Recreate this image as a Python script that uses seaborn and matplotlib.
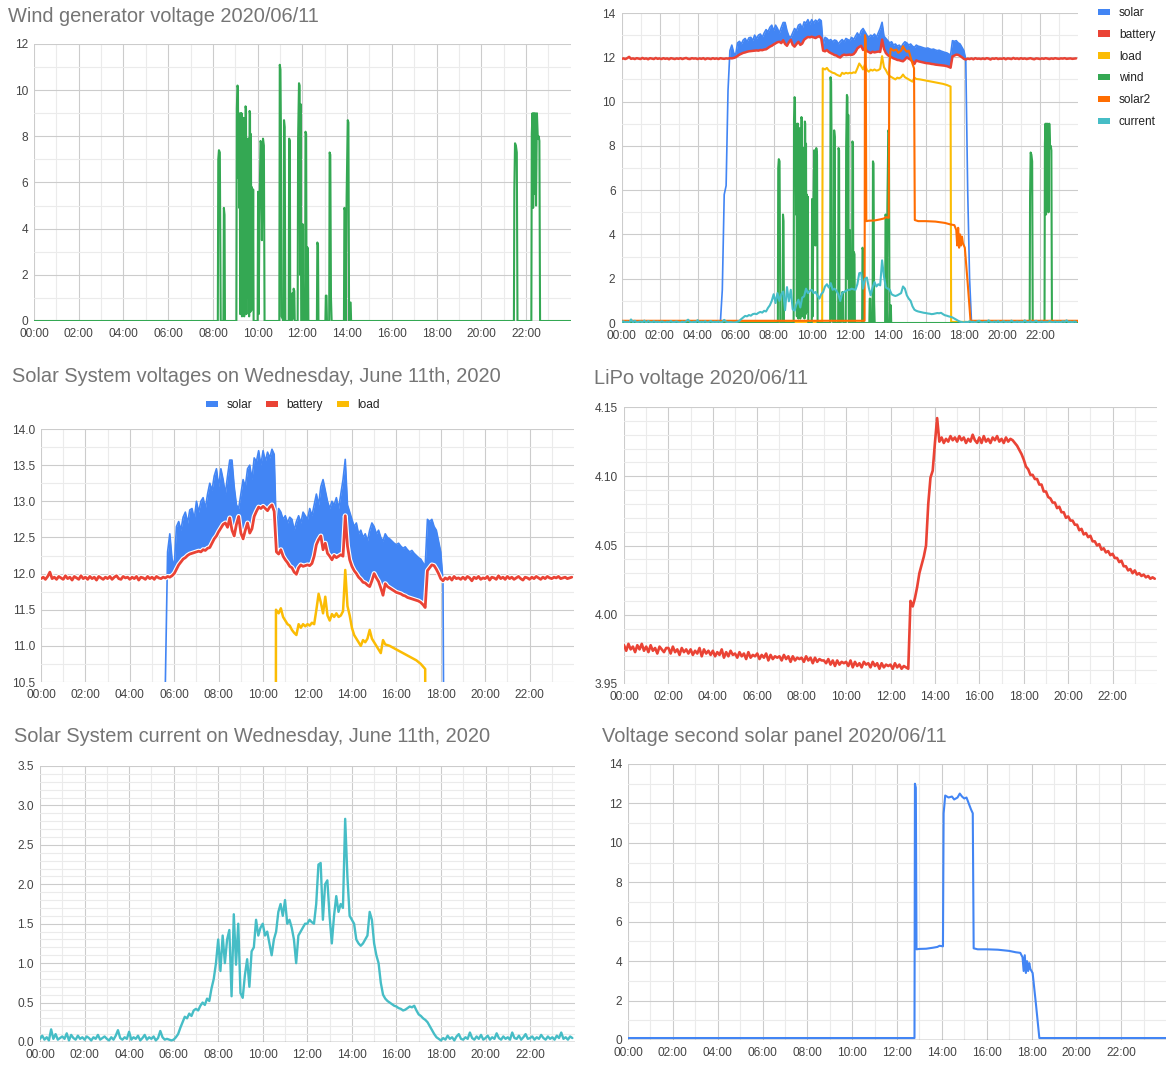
import numpy as np
import pandas as pd
import matplotlib
matplotlib.use('Agg')
import matplotlib.pyplot as plt
import matplotlib.patheffects as pe
import seaborn as sns
from matplotlib.ticker import FixedLocator, MultipleLocator, FuncFormatter
from matplotlib.patches import Patch

W, H = 1173, 1077

BLUE = '#4285f4'
RED = '#ea4335'
YELLOW = '#fbbc04'
GREEN = '#34a853'
ORANGE = '#ff6d01'
TEAL = '#46bdc6'

# readings every 6 minutes (0.1 h) over the day
hours = np.round(np.arange(240) * 0.1, 1)

battery = [
    11.93, 11.95, 11.92, 11.96, 12.02, 11.93, 11.95, 11.92, 11.96, 11.94,
    11.92, 11.97, 11.93, 11.95, 11.91, 11.96, 11.94, 11.92, 11.97, 11.93,
    11.95, 11.92, 11.96, 11.93, 11.95, 11.91, 11.96, 11.94, 11.92, 11.95,
    11.93, 11.96, 11.92, 11.95, 11.97, 11.93, 11.92, 11.96, 11.94, 11.95,
    11.92, 11.95, 11.93, 11.96, 11.91, 11.95, 11.94, 11.92, 11.96, 11.93,
    11.95, 11.92, 11.96, 11.94, 11.93, 11.95, 11.94, 11.96, 11.95, 11.97,
    12.00, 12.06, 12.12, 12.16, 12.20, 12.22, 12.25, 12.27, 12.28, 12.29,
    12.30, 12.31, 12.30, 12.33, 12.32, 12.35, 12.36, 12.42, 12.48, 12.52,
    12.58, 12.63, 12.68, 12.70, 12.64, 12.77, 12.60, 12.52, 12.68, 12.79,
    12.56, 12.48, 12.60, 12.70, 12.56, 12.62, 12.79, 12.86, 12.92, 12.90,
    12.93, 12.90, 12.87, 12.92, 12.95, 12.86, 12.30, 12.27, 12.33, 12.24,
    12.19, 12.15, 12.10, 12.08, 12.02, 11.99, 12.08, 12.12, 12.10, 12.11,
    12.12, 12.11, 12.14, 12.24, 12.40, 12.47, 12.52, 12.33, 12.42, 12.28,
    12.24, 12.19, 12.25, 12.22, 12.24, 12.26, 12.24, 12.80, 12.38, 12.19,
    12.10, 12.04, 12.00, 11.95, 11.92, 11.88, 11.87, 11.84, 11.82, 11.90,
    12.00, 11.94, 11.89, 11.80, 11.70, 11.86, 11.82, 11.80, 11.78, 11.76,
    11.74, 11.73, 11.72, 11.70, 11.69, 11.67, 11.66, 11.65, 11.64, 11.63,
    11.62, 11.60, 11.57, 11.53, 12.04, 12.08, 12.12, 12.11, 12.06, 12.00,
    11.93, 11.90, 11.94, 11.92, 11.95, 11.91, 11.96, 11.93, 11.94, 11.92,
    11.95, 11.92, 11.96, 11.94, 11.90, 11.95, 11.93, 11.96, 11.92, 11.94,
    11.93, 11.96, 11.91, 11.95, 11.94, 11.92, 11.97, 11.93, 11.95, 11.92,
    11.96, 11.93, 11.95, 11.92, 11.94, 11.96, 11.93, 11.91, 11.95, 11.94,
    11.92, 11.95, 11.93, 11.96, 11.94, 11.92, 11.95, 11.93, 11.96, 11.94,
    11.93, 11.95, 11.94, 11.96, 11.93, 11.94, 11.95, 11.93, 11.94, 11.95,
]

# solar panel peaks, 05:00 .. 18:24 (same 6 minute steps)
solar_day = [
    0.05, 0.05, 0.05, 1.50, 5.80, 6.20, 10.50, 12.30, 12.55, 12.20,
    12.10, 12.65, 12.72, 12.60, 12.78, 12.85, 12.70, 12.88, 12.90, 12.75,
    13.00, 12.85, 13.00, 13.05, 12.90, 13.10, 13.25, 13.15, 13.35, 13.45,
    13.20, 13.45, 13.30, 13.10, 13.35, 13.57, 13.57, 13.20, 12.95, 12.90,
    13.10, 13.30, 13.20, 13.45, 13.50, 13.30, 13.60, 13.55, 13.70, 13.50,
    13.70, 13.55, 13.68, 13.60, 13.72, 13.65, 12.55, 12.90, 12.85, 12.75,
    12.80, 12.70, 12.78, 12.75, 12.60, 12.72, 12.80, 12.70, 12.85, 12.80,
    12.75, 12.90, 12.80, 12.95, 13.10, 12.95, 13.20, 13.30, 13.15, 13.00,
    12.90, 13.00, 12.95, 13.05, 12.90, 13.10, 13.30, 13.58, 12.95, 12.85,
    12.75, 12.65, 12.70, 12.55, 12.60, 12.50, 12.55, 12.45, 12.60, 12.70,
    12.65, 12.55, 12.60, 12.50, 12.45, 12.55, 12.50, 12.48, 12.45, 12.42,
    12.40, 12.42, 12.38, 12.35, 12.37, 12.33, 12.30, 12.32, 12.28, 12.25,
    12.22, 12.20, 12.15, 12.10, 12.75, 12.72, 12.75, 12.65, 12.60, 12.45,
    12.30, 11.90, 6.00, 2.00, 0.05,
]
solar_night = 0.05

current = [
    0.04, 0.08, 0.03, 0.06, 0.02, 0.16, 0.04, 0.10, 0.03, 0.05,
    0.07, 0.04, 0.11, 0.02, 0.09, 0.05, 0.03, 0.08, 0.04, 0.06,
    0.03, 0.07, 0.05, 0.02, 0.06, 0.04, 0.09, 0.03, 0.05, 0.07,
    0.04, 0.02, 0.06, 0.03, 0.08, 0.15, 0.05, 0.03, 0.06, 0.04,
    0.13, 0.03, 0.06, 0.04, 0.08, 0.02, 0.05, 0.09, 0.03, 0.06,
    0.04, 0.07, 0.02, 0.05, 0.14, 0.06, 0.03, 0.04, 0.03, 0.02,
    0.03, 0.06, 0.10, 0.18, 0.25, 0.32, 0.30, 0.36, 0.33, 0.40,
    0.42, 0.40, 0.46, 0.50, 0.47, 0.55, 0.52, 0.68, 0.80, 1.00,
    1.30, 0.90, 1.35, 1.00, 1.30, 1.42, 0.58, 1.62, 0.98, 1.50,
    0.62, 0.56, 0.85, 1.05, 0.70, 1.15, 1.20, 1.55, 1.35, 1.45,
    1.50, 1.35, 1.40, 1.25, 1.10, 1.30, 1.40, 1.65, 1.75, 1.60,
    1.80, 1.50, 1.55, 1.45, 1.30, 1.00, 1.35, 1.40, 1.45, 1.50,
    1.50, 1.55, 1.52, 1.50, 1.75, 2.25, 2.27, 1.55, 2.00, 2.05,
    1.60, 1.25, 1.60, 1.85, 1.65, 1.75, 1.70, 2.83, 2.10, 1.60,
    1.55, 1.50, 1.30, 1.25, 1.22, 1.25, 1.30, 1.35, 1.65, 1.55,
    1.25, 1.10, 1.00, 0.75, 0.60, 0.55, 0.52, 0.50, 0.48, 0.46,
    0.45, 0.43, 0.42, 0.40, 0.41, 0.43, 0.45, 0.44, 0.46, 0.40,
    0.35, 0.33, 0.30, 0.28, 0.25, 0.20, 0.15, 0.10, 0.06, 0.04,
    0.02, 0.05, 0.03, 0.08, 0.04, 0.06, 0.02, 0.07, 0.10, 0.04,
    0.03, 0.06, 0.04, 0.12, 0.05, 0.03, 0.07, 0.04, 0.09, 0.03,
    0.05, 0.08, 0.03, 0.06, 0.04, 0.11, 0.05, 0.03, 0.07, 0.04,
    0.06, 0.03, 0.12, 0.05, 0.04, 0.08, 0.03, 0.06, 0.10, 0.04,
    0.05, 0.07, 0.03, 0.06, 0.04, 0.09, 0.05, 0.03, 0.07, 0.04,
    0.06, 0.03, 0.08, 0.05, 0.12, 0.04, 0.06, 0.03, 0.07, 0.05,
]

lipo = [
    3.978, 3.974, 3.979, 3.975, 3.977, 3.973, 3.978, 3.975, 3.979, 3.974,
    3.977, 3.973, 3.978, 3.974, 3.976, 3.972, 3.977, 3.975, 3.973, 3.976,
    3.976, 3.972, 3.977, 3.973, 3.975, 3.971, 3.976, 3.973, 3.975, 3.972,
    3.975, 3.971, 3.974, 3.972, 3.976, 3.970, 3.975, 3.972, 3.974, 3.971,
    3.974, 3.970, 3.973, 3.971, 3.975, 3.969, 3.973, 3.970, 3.974, 3.971,
    3.972, 3.969, 3.973, 3.970, 3.972, 3.968, 3.973, 3.969, 3.971, 3.970,
    3.972, 3.968, 3.971, 3.969, 3.972, 3.967, 3.971, 3.968, 3.970, 3.969,
    3.970, 3.967, 3.971, 3.968, 3.970, 3.966, 3.970, 3.967, 3.969, 3.968,
    3.969, 3.966, 3.970, 3.967, 3.969, 3.965, 3.969, 3.966, 3.968, 3.967,
    3.967, 3.965, 3.968, 3.964, 3.967, 3.963, 3.967, 3.964, 3.966, 3.965,
    3.966, 3.963, 3.967, 3.962, 3.966, 3.963, 3.965, 3.962, 3.966, 3.964,
    3.965, 3.962, 3.966, 3.963, 3.965, 3.961, 3.965, 3.962, 3.964, 3.963,
    3.964, 3.961, 3.965, 3.962, 3.964, 3.961, 3.963, 3.962, 3.961, 4.010,
    4.006, 4.012, 4.020, 4.030, 4.036, 4.042, 4.050, 4.080, 4.099, 4.104,
    4.124, 4.142, 4.125, 4.128, 4.124, 4.127, 4.125, 4.129, 4.126, 4.128,
    4.125, 4.129, 4.126, 4.128, 4.124, 4.127, 4.125, 4.130, 4.126, 4.124,
    4.128, 4.124, 4.129, 4.125, 4.127, 4.124, 4.128, 4.126, 4.129, 4.125,
    4.127, 4.124, 4.128, 4.125, 4.127, 4.126, 4.124, 4.122, 4.119, 4.116,
    4.112, 4.107, 4.105, 4.101, 4.101, 4.098, 4.098, 4.094, 4.094, 4.089,
    4.089, 4.085, 4.084, 4.081, 4.081, 4.077, 4.078, 4.074, 4.074, 4.070,
    4.071, 4.068, 4.068, 4.065, 4.065, 4.061, 4.062, 4.058, 4.059, 4.056,
    4.057, 4.053, 4.053, 4.050, 4.051, 4.047, 4.048, 4.045, 4.046, 4.043,
    4.044, 4.041, 4.041, 4.038, 4.039, 4.035, 4.035, 4.032, 4.033, 4.030,
    4.032, 4.029, 4.030, 4.028, 4.029, 4.027, 4.028, 4.026, 4.027, 4.026,
]

# (hour, volts) for the series that change in steps or bursts
load_pts = [
    (0.00, 0.05), (10.55, 0.05), (10.58, 11.50), (10.70, 11.45), (10.80, 11.52), (10.90, 11.40),
    (11.00, 11.35), (11.10, 11.30), (11.20, 11.28), (11.30, 11.22), (11.40, 11.18), (11.50, 11.15),
    (11.60, 11.30), (11.70, 11.25), (11.80, 11.30), (11.90, 11.27), (12.00, 11.30), (12.10, 11.28),
    (12.20, 11.32), (12.30, 11.30), (12.40, 11.50), (12.50, 11.72), (12.60, 11.60), (12.70, 11.45),
    (12.80, 11.68), (12.90, 11.42), (13.00, 11.35), (13.10, 11.44), (13.20, 11.40), (13.30, 11.45),
    (13.40, 11.40), (13.50, 11.42), (13.60, 11.48), (13.70, 12.05), (13.80, 11.55), (13.90, 11.42),
    (14.00, 11.25), (14.10, 11.15), (14.20, 11.10), (14.30, 11.05), (14.40, 11.00), (14.50, 11.08),
    (14.60, 11.05), (14.70, 11.10), (14.80, 11.22), (14.90, 11.10), (15.00, 11.05), (15.10, 11.00),
    (15.20, 10.95), (15.30, 10.90), (15.40, 11.08), (15.50, 11.02), (15.70, 11.00), (16.00, 10.95),
    (16.30, 10.90), (16.60, 10.85), (16.90, 10.80), (17.10, 10.75), (17.30, 10.68), (17.33, 0.05),
    (24.00, 0.05),
]

solar2_pts = [
    (0.00, 0.10), (12.78, 0.10), (12.80, 13.00), (12.84, 12.80), (12.87, 4.60), (13.00, 4.62),
    (13.30, 4.63), (13.60, 4.68), (13.80, 4.72), (13.90, 4.78), (14.05, 4.75), (14.08, 11.50),
    (14.12, 12.00), (14.15, 12.40), (14.30, 12.30), (14.45, 12.35), (14.55, 12.20), (14.70, 12.30),
    (14.80, 12.50), (14.90, 12.35), (15.00, 12.25), (15.10, 12.30), (15.20, 12.00), (15.30, 11.70),
    (15.38, 11.50), (15.42, 4.65), (15.60, 4.60), (16.00, 4.60), (16.50, 4.58), (17.00, 4.52),
    (17.30, 4.45), (17.50, 4.42), (17.60, 4.20), (17.65, 3.50), (17.70, 4.30), (17.75, 3.40),
    (17.80, 4.00), (17.85, 3.50), (17.90, 3.90), (17.95, 3.60), (18.05, 3.40), (18.20, 1.80),
    (18.35, 0.10), (24.00, 0.10),
]

wind_pts = [
    (0.00, 0.0), (8.22, 0.0), (8.24, 7.0), (8.27, 7.4), (8.31, 7.3), (8.35, 0.0),
    (8.47, 0.0), (8.49, 4.9), (8.52, 4.6), (8.54, 0.0),
    (9.05, 0.0), (9.07, 9.2), (9.10, 10.2), (9.12, 10.1), (9.14, 6.2), (9.16, 9.0), (9.18, 4.9),
    (9.20, 8.9), (9.22, 0.3), (9.24, 9.0), (9.26, 5.0), (9.28, 9.0), (9.30, 0.2), (9.32, 7.5),
    (9.34, 0.5), (9.36, 6.0), (9.38, 8.8), (9.40, 0.2), (9.42, 8.0), (9.44, 6.0), (9.46, 9.3),
    (9.48, 9.2), (9.50, 0.3), (9.52, 7.9), (9.54, 1.0), (9.56, 7.8), (9.58, 3.5), (9.60, 7.9),
    (9.62, 0.2), (9.64, 9.1), (9.66, 9.0), (9.68, 0.4), (9.70, 8.1), (9.72, 2.0), (9.74, 5.8),
    (9.76, 5.6), (9.78, 0.5), (9.80, 5.7), (9.82, 0.0),
    (10.00, 0.0), (10.02, 5.6), (10.05, 0.3), (10.08, 4.5), (10.13, 7.8), (10.16, 7.7),
    (10.19, 3.5), (10.24, 7.9), (10.28, 7.6), (10.31, 0.0),
    (10.97, 0.0), (10.99, 11.1), (11.02, 10.9), (11.04, 8.5), (11.07, 0.2), (11.16, 0.0),
    (11.18, 8.7), (11.21, 8.4), (11.24, 0.0),
    (11.39, 0.0), (11.41, 7.9), (11.44, 7.8), (11.46, 0.0),
    (11.53, 0.0), (11.55, 1.2), (11.58, 0.1), (11.61, 1.4), (11.64, 1.3), (11.66, 0.0),
    (11.79, 0.0), (11.81, 7.9), (11.85, 10.3), (11.88, 10.2), (11.90, 2.0), (11.92, 9.4),
    (11.95, 0.0), (11.99, 0.0), (12.01, 4.2), (12.04, 0.0), (12.12, 0.0), (12.14, 8.2),
    (12.17, 8.1), (12.19, 0.0), (12.22, 3.2), (12.25, 3.1), (12.27, 0.0),
    (12.65, 0.0), (12.67, 3.4), (12.70, 3.3), (12.72, 0.0),
    (13.03, 0.0), (13.05, 1.1), (13.08, 1.1), (13.10, 0.0), (13.20, 0.0), (13.22, 7.3),
    (13.25, 7.2), (13.28, 1.0), (13.31, 0.0),
    (13.86, 0.0), (13.88, 4.9), (13.91, 4.8), (13.93, 0.0), (13.98, 5.4), (14.03, 8.7),
    (14.06, 8.6), (14.09, 0.0), (14.13, 0.8), (14.16, 0.8), (14.18, 0.0),
    (21.46, 0.0), (21.48, 5.7), (21.51, 7.7), (21.55, 7.6), (21.59, 7.3), (21.62, 0.0),
    (22.24, 0.0), (22.26, 8.1), (22.29, 9.0), (22.32, 4.9), (22.35, 9.0), (22.38, 5.5),
    (22.41, 9.0), (22.45, 5.0), (22.49, 9.0), (22.53, 7.9), (22.57, 8.0), (22.60, 7.8),
    (22.63, 0.0), (24.00, 0.0),
]

hour_ticks = list(range(0, 23, 2))
volt_ticks = [0, 2, 4, 6, 8, 10, 12]
volt14_ticks = [0, 2, 4, 6, 8, 10, 12, 14]
system_ticks = [10.5, 11.0, 11.5, 12.0, 12.5, 13.0, 13.5, 14.0]
lipo_ticks = [3.95, 4.00, 4.05, 4.10, 4.15]
amp_ticks = [0.0, 0.5, 1.0, 1.5, 2.0, 2.5, 3.0, 3.5]

sns.set_theme(style='white')
plt.rcParams['font.family'] = ['Liberation Sans', 'DejaVu Sans']

df = pd.DataFrame({'hour': hours, 'battery': battery, 'current': current, 'lipo': lipo})
day = df.iloc[50:185].copy()
day['solar'] = solar_day
solar_df = pd.concat([pd.DataFrame({'hour': [0.0], 'solar': [solar_night]}),
                      day[['hour', 'solar']],
                      pd.DataFrame({'hour': [23.9], 'solar': [solar_night]})], ignore_index=True)
load_df = pd.DataFrame(load_pts, columns=['hour', 'load'])
solar2_df = pd.DataFrame(solar2_pts, columns=['hour', 'solar2'])
wind_df = pd.DataFrame(wind_pts, columns=['hour', 'wind'])

LW = 1.5
fig = plt.figure(figsize=(W / 100, H / 100), dpi=100)
fig.patch.set_facecolor('white')


def make_axes(x0, y0, x1, y1):
    return fig.add_axes([x0 / W, 1 - y1 / H, (x1 - x0) / W, (y1 - y0) / H])


def style_axes(ax, yticks, yminor, yfmt, baseline):
    ax.set_xlim(0, 24)
    ax.set_ylim(yticks[0], yticks[-1])
    ax.xaxis.set_major_locator(FixedLocator(hour_ticks))
    ax.xaxis.set_minor_locator(FixedLocator(list(range(1, 24, 2))))
    ax.xaxis.set_major_formatter(FuncFormatter(lambda v, p: f'{int(round(v)):02d}:00'))
    ax.yaxis.set_major_locator(FixedLocator(yticks))
    ax.yaxis.set_minor_locator(MultipleLocator(yminor))
    ax.yaxis.set_major_formatter(FuncFormatter(lambda v, p: yfmt.format(v)))
    ax.grid(True, which='major', color='#cccccc', lw=0.8)
    ax.grid(True, which='minor', color='#ebebeb', lw=0.8)
    ax.set_axisbelow(True)
    for s in ax.spines.values():
        s.set_visible(False)
    ax.tick_params(which='both', length=0, labelsize=8.6, labelcolor='#444444')
    ax.tick_params(axis='y', pad=4.3)
    ax.tick_params(axis='x', pad=5.0)
    ax.set_xlabel('')
    ax.set_ylabel('')
    if baseline:
        ax.axhline(yticks[0], color='#333333', lw=0.9, zorder=1.5)


def line(ax, data, col, color, lw=LW, halo=False):
    sns.lineplot(data=data, x='hour', y=col, ax=ax, color=color, linewidth=lw,
                 estimator=None, sort=False, legend=False)
    if halo:
        ax.lines[-1].set_path_effects([pe.Stroke(linewidth=lw + 1.6, foreground='white'), pe.Normal()])


def solar_band(ax):
    ax.fill_between(day['hour'], day['battery'], day['solar'],
                    where=day['solar'] > day['battery'], interpolate=True,
                    color=BLUE, lw=0, zorder=1.9)
    line(ax, solar_df, 'solar', BLUE, lw=1.2)


def title(x, y, text):
    fig.text(x / W, 1 - y / H, text, fontsize=14.4, color='#757575', ha='left', va='center')


# wind generator
ax1 = make_axes(34, 44, 570.7, 321)
line(ax1, wind_df, 'wind', GREEN)
style_axes(ax1, volt_ticks, 1, '{:.0f}', True)
title(8, 16, 'Wind generator voltage 2020/06/11')

# all series together
ax2 = make_axes(621.5, 13, 1078, 323)
solar_band(ax2)
line(ax2, df, 'battery', RED, lw=1.8)
line(ax2, load_df, 'load', YELLOW)
line(ax2, wind_df, 'wind', GREEN)
line(ax2, solar2_df, 'solar2', ORANGE)
line(ax2, df, 'current', TEAL)
style_axes(ax2, volt14_ticks, 1, '{:.0f}', True)
names = ['solar', 'battery', 'load', 'wind', 'solar2', 'current']
cols = [BLUE, RED, YELLOW, GREEN, ORANGE, TEAL]
leg = ax2.legend([Patch(facecolor=c, edgecolor='none') for c in cols], names,
                 loc='upper left', bbox_to_anchor=(1098 / W, 1 - 7 / H),
                 bbox_transform=fig.transFigure, frameon=False, fontsize=8.6,
                 handlelength=1.0, handleheight=0.45, handletextpad=0.75,
                 labelspacing=0.82, borderpad=0, borderaxespad=0)
for t in leg.get_texts():
    t.set_color('#222222')

# solar system voltages
ax3 = make_axes(41, 429, 574, 682)
solar_band(ax3)
line(ax3, df, 'battery', RED, lw=2.0, halo=True)
line(ax3, load_df, 'load', YELLOW, lw=1.8)
style_axes(ax3, system_ticks, 0.25, '{:.1f}', False)
title(12, 376, 'Solar System voltages on Wednesday, June 11th, 2020')
leg3 = ax3.legend([Patch(facecolor=c, edgecolor='none') for c in cols[:3]], names[:3],
                  loc='center', bbox_to_anchor=(293 / W, 1 - 405 / H),
                  bbox_transform=fig.transFigure, ncol=3, frameon=False, fontsize=8.6,
                  handlelength=1.0, handleheight=0.45, handletextpad=0.67,
                  columnspacing=1.2, borderpad=0, borderaxespad=0)
for t in leg3.get_texts():
    t.set_color('#222222')

# LiPo
ax4 = make_axes(624, 407, 1157, 684)
line(ax4, df, 'lipo', RED, lw=1.9)
style_axes(ax4, lipo_ticks, 0.01, '{:.2f}', False)
title(594, 379, 'LiPo voltage 2020/06/11')

# current
ax5 = make_axes(40, 766, 574.6, 1042)
line(ax5, df, 'current', TEAL, lw=1.7)
style_axes(ax5, amp_ticks, 0.1, '{:.1f}', True)
title(14, 737, 'Solar System current on Wednesday, June 11th, 2020')

# second solar panel
ax6 = make_axes(628, 764, 1166, 1040)
line(ax6, solar2_df, 'solar2', BLUE)
style_axes(ax6, volt14_ticks, 1, '{:.0f}', True)
title(602, 736, 'Voltage second solar panel 2020/06/11')

fig.savefig('out.png', dpi=100, facecolor='white')
